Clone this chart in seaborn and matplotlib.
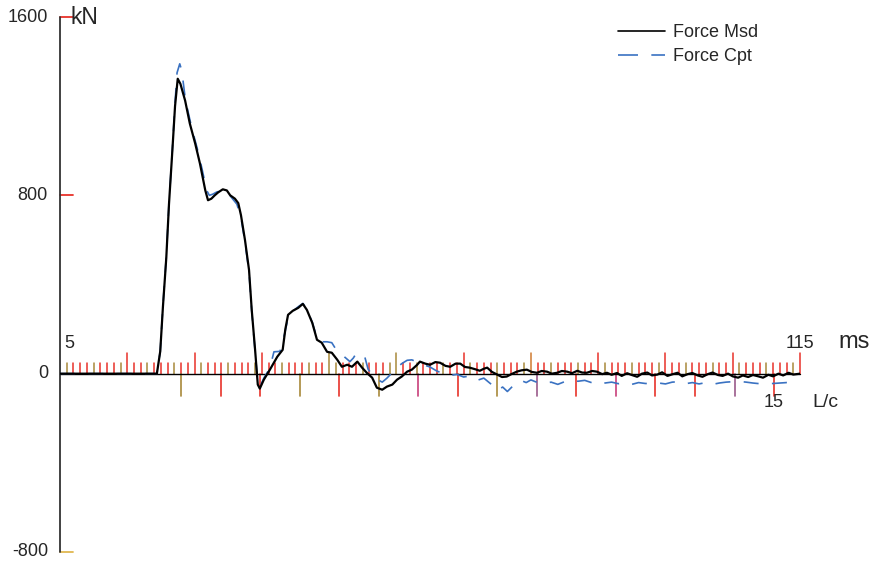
import numpy as np
import pandas as pd
import seaborn as sns
import matplotlib
matplotlib.use("Agg")
import matplotlib.pyplot as plt
from matplotlib.lines import Line2D

# ---------------- data ----------------
msd_t = [5.0, 19.4, 19.9, 20.3, 20.8, 21.2, 21.7, 22.1, 22.5, 22.9, 23.6, 24.3, 25.1, 25.8,
         26.6, 27.0, 27.5, 28.0, 28.5, 29.2, 29.8, 30.3, 31.0, 31.5, 31.9, 32.5, 33.1, 33.5,
         34.0, 34.4, 34.7, 35.3, 36.2, 37.3, 38.1, 38.5, 38.9, 39.6, 40.4, 41.1, 41.7, 42.5,
         43.2, 43.9, 44.7, 45.4, 46.2, 46.9, 47.7, 48.4, 49.2, 49.9, 50.6, 51.4, 52.1, 52.9,
         53.6, 54.4, 55.1, 55.8, 56.6, 57.3, 58.1, 58.5, 59.3, 60.0, 60.8, 61.5, 62.3, 63.0,
         63.8, 64.5, 65.2, 65.9, 66.7, 67.4, 68.0, 68.5, 69.2, 70.0, 70.7, 71.4, 72.1, 72.9,
         73.6, 74.4, 75.1, 75.9, 76.6, 77.4, 78.1, 78.9, 79.6, 80.4, 81.1, 81.9, 82.6, 83.3,
         84.1, 84.8, 85.6, 86.3, 87.0, 87.8, 88.5, 89.3, 90.0, 90.8, 91.5, 92.3, 93.0, 93.8,
         94.5, 95.3, 96.0, 96.8, 97.5, 98.3, 99.0, 99.8, 100.5, 101.3, 102.0, 102.8, 103.5,
         104.3, 105.0, 105.8, 106.5, 107.3, 108.0, 108.8, 109.5, 110.3, 111.0, 111.8, 112.5,
         113.3, 114.0, 115.0]
msd_f = [0, 0, 100, 300, 520, 760, 1000, 1200, 1323, 1300, 1225, 1122, 1032, 943,
         822, 778, 785, 800, 813, 827, 822, 800, 785, 765, 711, 599, 465, 286,
         107, -49, -67, -27, 18, 76, 107, 200, 264, 282, 295, 313, 286, 228,
         152, 139, 98, 94, 63, 31, 40, 31, 54, 27, 4, -18, -63, -72,
         -58, -49, -27, -13, 9, 18, 40, 54, 45, 40, 52, 49, 35, 31,
         45, 45, 30, 27, 20, 13, 22, 27, 8, -4, -15, -13, -2, 9,
         15, 18, 8, 4, 12, 9, 0, 4, 12, 9, 2, 13, 5, 4,
         12, 9, -2, 4, -5, 3, -10, 2, -6, -14, 0, 5, -8, -4,
         6, -10, -3, 4, -12, -2, 3, -8, -14, -2, 5, -6, -10,
         0, -12, -18, -8, -15, -6, -12, -18, -5, -12, 0, -8,
         4, -4, 0]

cpt_t = [5.0, 19.4, 19.9, 20.3, 20.8, 21.2, 21.7, 22.1, 22.4, 22.8, 23.1, 23.6, 24.0, 24.6,
         25.4, 26.1, 26.8, 27.2, 27.7, 28.3, 29.0, 29.8, 30.5, 31.3, 31.9, 32.5, 33.1, 33.5,
         34.0, 34.4, 34.7, 35.3, 36.2, 36.8, 37.7, 38.4, 38.9, 39.6, 40.4, 41.1, 41.7, 42.5,
         43.2, 43.9, 44.7, 45.4, 46.0, 46.6, 47.3, 48.1, 48.6, 49.1, 49.7, 50.3, 50.8, 51.4,
         52.1, 52.9, 53.6, 54.4, 55.1, 55.8, 56.6, 57.3, 58.1, 59.0, 60.0, 61.0, 62.0, 63.0,
         64.0, 65.0, 66.0, 67.0, 68.0, 69.0, 70.0, 70.8, 71.5, 72.5, 73.5, 74.3, 75.0, 76.0,
         77.0, 78.0, 79.0, 80.0, 81.0, 82.0, 83.0, 84.0, 85.0, 86.0, 87.0, 88.0, 89.0, 90.0,
         91.0, 92.0, 93.0, 94.0, 95.0, 96.0, 97.0, 98.0, 99.0, 100.0, 101.0, 102.0, 103.0,
         104.0, 105.0, 106.0, 107.0, 108.0, 109.0, 110.0, 111.0, 112.0, 113.0, 114.0, 115.0]
cpt_f = [0, 0, 100, 305, 525, 765, 1005, 1215, 1350, 1390, 1360, 1238, 1180, 1100,
         1010, 920, 822, 800, 805, 815, 820, 815, 790, 760, 700, 590, 455, 280,
         100, -40, -60, -20, 25, 98, 100, 180, 250, 280, 300, 315, 290, 230,
         160, 143, 143, 139, 110, 98, 75, 54, 70, 94, 85, 76, 20, -5,
         -25, -38, -20, 5, 28, 45, 60, 62, 52, 40, 30, 12, 0, -8,
         -3, -15, -10, -30, -20, -45, -75, -60, -80, -50, -30, -40, -28, -40,
         -45, -38, -48, -36, -30, -34, -30, -40, -50, -42, -38, -45, -40, -48,
         -40, -44, -45, -42, -46, -38, -36, -45, -40, -46, -40, -48, -42,
         -38, -36, -35, -38, -42, -45, -46, -44, -42, -40, -42, -40]

y_ticks = [1600, 800, 0, -800]
y_tick_labels = ["1600", "800", "0", "-800"]
lc_count = 15
series_names = ["Force Msd", "Force Cpt"]

df = pd.concat([
    pd.DataFrame({"t": msd_t, "F": msd_f, "series": series_names[0]}),
    pd.DataFrame({"t": cpt_t, "F": cpt_f, "series": series_names[1]}),
], ignore_index=True)

# ---------------- figure ----------------
sns.set_style("white")
plt.rcParams["font.family"] = ["Liberation Sans", "DejaVu Sans"]

W, H = 870, 566
fig = plt.figure(figsize=(W / 100, H / 100), dpi=100)
ax = fig.add_axes([60 / W, 14 / H, 740 / W, 535 / H])
ax.set_xlim(5, 115)
ax.set_ylim(-800, 1600)
ax.axis("off")

RED = "#e8322a"
OLIVE = "#a8893a"
MAG = "#c8407a"
PURP = "#9a5a8a"
BLUE = "#3a72c2"

kn_per_px = 2400 / 535
ms_per_px = 110 / 740

# axes lines
ax.plot([5, 5], [-800, 1600], color="#333333", lw=1.3, zorder=3, clip_on=False)
ax.plot([5, 115], [0, 0], color="black", lw=1.0, zorder=2, clip_on=False)

# y ticks
ytc = {1600: RED, 800: RED, 0: None, -800: "#e0b850"}
for v in y_ticks:
    c = ytc[v]
    if c:
        ax.plot([5, 5 + 13 * ms_per_px], [v, v], color=c, lw=1.3, zorder=2, clip_on=False)

# time ticks (1 ms small, 10 ms long)
for i, ms in enumerate(range(6, 116)):
    if (ms - 5) % 10 == 0:
        h = 21 * kn_per_px
        col = {45: OLIVE, 55: OLIVE, 75: "#d07a30"}.get(ms, RED)
    else:
        h = 11 * kn_per_px
        col = OLIVE if i % 4 == 0 else RED
    ax.plot([ms, ms], [0, h], color=col, lw=1.1, zorder=1, clip_on=False)

# L/c ticks below axis
lc_start = 23.0
lc_ms = (111.14 - 23.0) / lc_count
lc_cols = [OLIVE, RED, RED, OLIVE, RED, OLIVE, MAG, RED, OLIVE, PURP, RED, MAG, RED, RED, PURP, RED]
for k in range(lc_count + 1):
    tt = lc_start + k * lc_ms
    ax.plot([tt, tt], [0, -22 * kn_per_px], color=lc_cols[k], lw=1.2, zorder=1, clip_on=False)

# curves
sns.lineplot(data=df[df.series == "Force Cpt"], x="t", y="F", ax=ax, color=BLUE,
             lw=1.2, legend=False, estimator=None, sort=False, zorder=4)
ax.lines[-1].set_dashes((9, 8))
sns.lineplot(data=df[df.series == "Force Msd"], x="t", y="F", ax=ax, color="black",
             lw=1.6, legend=False, estimator=None, sort=False, zorder=5)

# texts
def ftxt(x, y, s, **kw):
    fig.text(x / W, 1 - y / H, s, **kw)

fs = 13
for v, lab, ypx in zip(y_ticks, y_tick_labels, [17, 195, 374, 552]):
    ftxt(48, ypx, lab, ha="right", va="center", fontsize=fs)
ftxt(71, 18, "kN", ha="left", va="center", fontsize=16.5)
ftxt(64, 348, "5", ha="left", va="baseline", fontsize=fs)
ftxt(800, 348, "115", ha="center", va="baseline", fontsize=fs)
ftxt(838, 348, "ms", ha="left", va="baseline", fontsize=17)
ftxt(774, 407, "15", ha="center", va="baseline", fontsize=fs)
ftxt(812, 407, "L/c", ha="left", va="baseline", fontsize=14)

handles = [Line2D([], [], color="black", lw=1.2),
           Line2D([], [], color=BLUE, lw=1.2, dashes=(12, 8))]
fig.legend(handles, series_names, loc="upper left", bbox_to_anchor=(618 / W, 1 - 24 / H),
           frameon=False, fontsize=fs, handlelength=2.6, handletextpad=0.45,
           labelspacing=0.4, borderpad=0, borderaxespad=0)

fig.savefig("out.png", dpi=100)
